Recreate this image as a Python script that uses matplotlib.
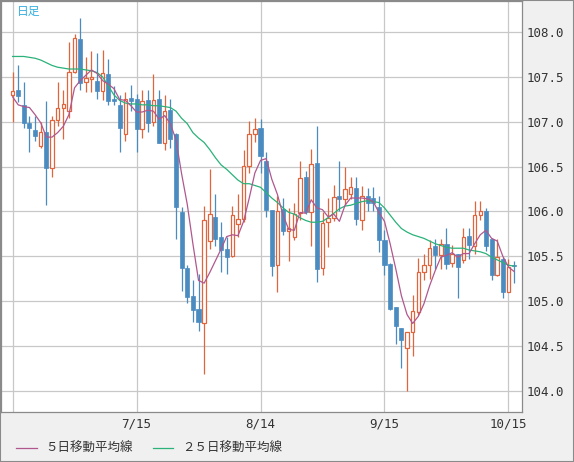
import matplotlib
matplotlib.use('Agg')
import matplotlib.pyplot as plt
from matplotlib.lines import Line2D
from matplotlib.patches import Rectangle
import numpy as np

# daily USD/JPY, 6/15 .. 10/16
opens = [107.30, 107.36, 107.19, 106.99, 106.91, 106.73, 106.89, 106.48, 107.02, 107.16,
         107.12, 107.56, 107.92, 107.44, 107.48, 107.46, 107.34, 107.53, 107.25, 107.19,
         106.87, 107.27, 107.25, 106.92, 107.24, 107.00, 107.25, 106.76, 107.13, 106.86,
         105.99, 105.37, 105.06, 104.91, 104.76, 105.67, 105.94, 105.72, 105.58, 105.50,
         105.86, 105.92, 106.51, 106.86, 106.93, 106.56, 106.02, 105.40, 106.03, 105.78,
         105.71, 105.98, 106.39, 105.99, 106.54, 105.37, 105.88, 105.93, 106.17, 106.14,
         106.19, 106.26, 105.91, 106.17, 106.15, 106.05, 105.68, 105.41, 104.93, 104.70,
         104.48, 104.65, 104.88, 105.33, 105.40, 105.61, 105.51, 105.64, 105.43, 105.53,
         105.46, 105.73, 105.62, 105.96, 106.01, 105.69, 105.29, 105.47, 105.10, 105.40]
highs = [107.56, 107.63, 107.44, 107.06, 107.06, 107.00, 107.23, 107.06, 107.44, 107.36,
         107.89, 107.98, 108.16, 107.72, 107.79, 107.77, 107.80, 107.70, 107.40, 107.30,
         107.33, 107.41, 107.31, 107.36, 107.36, 107.53, 107.36, 107.30, 107.25, 106.88,
         106.05, 105.40, 105.24, 105.30, 106.06, 106.47, 106.20, 105.88, 105.71, 106.06,
         106.20, 106.69, 107.01, 107.04, 107.03, 106.66, 106.02, 106.17, 106.15, 106.04,
         106.10, 106.56, 106.45, 106.70, 106.95, 105.99, 106.15, 106.30, 106.56, 106.50,
         106.39, 106.39, 106.28, 106.26, 106.27, 106.17, 105.79, 105.42, 104.93, 104.70,
         104.66, 105.07, 105.48, 105.53, 105.68, 105.69, 105.69, 105.81, 105.63, 105.53,
         105.81, 105.81, 106.12, 106.12, 106.04, 105.70, 105.69, 105.49, 105.47, 105.45]
lows = [107.00, 107.22, 106.93, 106.66, 106.79, 106.71, 106.07, 106.38, 106.95, 106.81,
        107.04, 107.54, 107.36, 107.33, 107.33, 107.25, 107.24, 107.19, 107.19, 106.66,
        106.79, 107.12, 106.66, 106.82, 106.89, 106.95, 106.76, 106.69, 106.71, 105.69,
        105.11, 104.98, 104.77, 104.67, 104.19, 105.58, 105.62, 105.32, 105.30, 105.49,
        105.71, 105.88, 106.43, 106.78, 106.43, 105.94, 105.28, 105.10, 105.74, 105.45,
        105.68, 105.90, 105.97, 105.61, 105.21, 105.29, 105.60, 105.89, 106.00, 106.07,
        106.14, 105.85, 105.79, 106.00, 106.00, 105.55, 105.29, 104.90, 104.52, 104.25,
        104.00, 104.39, 104.85, 105.23, 105.25, 105.36, 105.36, 105.36, 105.38, 105.03,
        105.42, 105.47, 105.52, 105.90, 105.56, 105.23, 105.28, 105.03, 105.10, 105.20]
closes = [107.35, 107.29, 106.99, 106.93, 106.84, 106.89, 106.48, 107.02, 107.16, 107.20,
          107.56, 107.94, 107.43, 107.49, 107.50, 107.34, 107.54, 107.23, 107.23, 106.93,
          107.26, 107.23, 106.92, 107.23, 106.99, 107.24, 106.76, 107.12, 106.81, 106.05,
          105.37, 105.05, 104.90, 104.77, 105.90, 105.97, 105.69, 105.57, 105.49, 105.96,
          105.92, 106.51, 106.86, 106.92, 106.62, 106.02, 105.39, 106.01, 105.78, 105.81,
          105.97, 106.37, 105.99, 106.53, 105.36, 105.87, 105.93, 106.16, 106.14, 106.25,
          106.27, 105.92, 106.17, 106.09, 106.10, 105.68, 105.40, 104.91, 104.72, 104.57,
          104.66, 104.89, 105.32, 105.40, 105.59, 105.51, 105.64, 105.41, 105.53, 105.38,
          105.71, 105.63, 105.96, 106.01, 105.62, 105.29, 105.49, 105.10, 105.38, 105.39]

ma5 = [107.28, 107.19, 107.17, 107.16, 107.08, 106.99, 106.83, 106.83, 106.88, 106.95,
       107.08, 107.38, 107.46, 107.52, 107.58, 107.54, 107.46, 107.42, 107.37, 107.25,
       107.24, 107.18, 107.11, 107.11, 107.13, 107.12, 107.03, 107.07, 106.98, 106.80,
       106.42, 106.08, 105.64, 105.23, 105.20, 105.32, 105.45, 105.58, 105.72, 105.74,
       105.73, 105.89, 106.15, 106.43, 106.57, 106.59, 106.36, 106.19, 105.96, 105.80,
       105.79, 105.99, 105.98, 106.13, 106.04, 106.02, 105.94, 105.97, 105.89, 106.07,
       106.15, 106.15, 106.15, 106.14, 106.11, 105.99, 105.89, 105.64, 105.36, 105.06,
       104.85, 104.75, 104.83, 104.97, 105.17, 105.34, 105.49, 105.51, 105.54, 105.49,
       105.53, 105.53, 105.64, 105.74, 105.79, 105.70, 105.67, 105.50, 105.38, 105.33]
ma25 = [107.73, 107.73, 107.73, 107.72, 107.71, 107.69, 107.66, 107.63, 107.61, 107.60,
        107.59, 107.59, 107.59, 107.58, 107.57, 107.55, 107.50, 107.40, 107.30, 107.24,
        107.21, 107.20, 107.20, 107.19, 107.19, 107.18, 107.18, 107.17, 107.16, 107.12,
        107.04, 106.98, 106.88, 106.82, 106.77, 106.69, 106.60, 106.52, 106.47, 106.41,
        106.35, 106.31, 106.31, 106.29, 106.27, 106.21, 106.15, 106.10, 106.04, 105.99,
        105.97, 105.93, 105.90, 105.88, 105.88, 105.89, 105.93, 105.98, 106.03, 106.06,
        106.07, 106.09, 106.11, 106.12, 106.11, 106.10, 106.04, 105.96, 105.88, 105.81,
        105.77, 105.74, 105.72, 105.70, 105.67, 105.64, 105.62, 105.60, 105.59, 105.59,
        105.59, 105.57, 105.56, 105.55, 105.53, 105.49, 105.46, 105.43, 105.40, 105.39]

tick_pos = [0, 22, 44, 66, 88]
tick_labels = ['', '7/15', '8/14', '9/15', '10/15']
y_ticks = [104.0, 104.5, 105.0, 105.5, 106.0, 106.5, 107.0, 107.5, 108.0]
legend_labels = ['５日移動平均線', '２５日移動平均線']

up_col = '#e0643c'
down_col = '#4a8bc0'
ma5_col = '#b0588e'
ma25_col = '#2ab27a'
txt_col = '#333333'

fig = plt.figure(figsize=(5.74, 4.62), dpi=100, facecolor='#f0f0f0')
ax = fig.add_axes([1 / 574, 50 / 462, 521 / 574, 411 / 462])
ax.set_facecolor('white')

x = np.arange(len(closes))
o = np.array(opens)
c = np.array(closes)
up = c >= o

# wicks
ax.vlines(x[up], np.array(lows)[up], np.array(highs)[up], color=up_col, lw=0.9, zorder=2)
ax.vlines(x[~up], np.array(lows)[~up], np.array(highs)[~up], color=down_col, lw=0.9, zorder=2)
# bodies
bottom = np.minimum(o, c)
height = np.abs(c - o)
ax.bar(x[up], height[up], bottom=bottom[up], width=0.62, facecolor='white',
       edgecolor=up_col, linewidth=0.9, zorder=3)
ax.bar(x[~up], height[~up], bottom=bottom[~up], width=0.72, facecolor=down_col,
       edgecolor=down_col, linewidth=0.5, zorder=3)

ax.plot(x, ma25, color=ma25_col, lw=0.9, zorder=4)
ax.plot(x, ma5, color=ma5_col, lw=0.9, zorder=5)

ax.set_xlim(-2.05, 90.4)
ax.set_ylim(103.762, 108.349)
ax.set_xticks(tick_pos)
ax.set_xticklabels(tick_labels)
ax.set_yticks(y_ticks)
ax.set_yticklabels(['%.1f' % v for v in y_ticks])
ax.yaxis.tick_right()
ax.tick_params(length=0, colors=txt_col, labelsize=9)
ax.tick_params(axis='x', pad=4)
ax.tick_params(axis='y', pad=3)
for lab in ax.get_xticklabels() + ax.get_yticklabels():
    lab.set_family('DejaVu Sans Mono')
ax.grid(True, color='#c8c8c8', lw=0.9, zorder=0)
ax.set_axisbelow(True)
for sp in ax.spines.values():
    sp.set_color('#8a8a8a')
    sp.set_linewidth(0.9)

ax.text(16 / 521, 1 - 10 / 411, '日足', transform=ax.transAxes, color='#35b0e0',
        fontsize=8.5, family=['Noto Sans CJK JP', 'DejaVu Sans'], va='center', ha='left')

# legend below the x labels
ly = (462 - 448) / 462
fig.add_artist(Line2D([16 / 574, 37 / 574], [ly, ly], color=ma5_col, lw=0.9))
fig.text(45 / 574, ly, legend_labels[0], color=txt_col, fontsize=9,
         family=['Noto Sans CJK JP', 'DejaVu Sans'], va='center', ha='left')
fig.add_artist(Line2D([153 / 574, 173 / 574], [ly, ly], color=ma25_col, lw=0.9))
fig.text(182 / 574, ly, legend_labels[1], color=txt_col, fontsize=9,
         family=['Noto Sans CJK JP', 'DejaVu Sans'], va='center', ha='left')

fig.patches.append(Rectangle((0, 0), 1, 1, transform=fig.transFigure, fill=False,
                             edgecolor='#8a8a8a', lw=1.5))

fig.savefig('out.png', dpi=100, facecolor=fig.get_facecolor())
